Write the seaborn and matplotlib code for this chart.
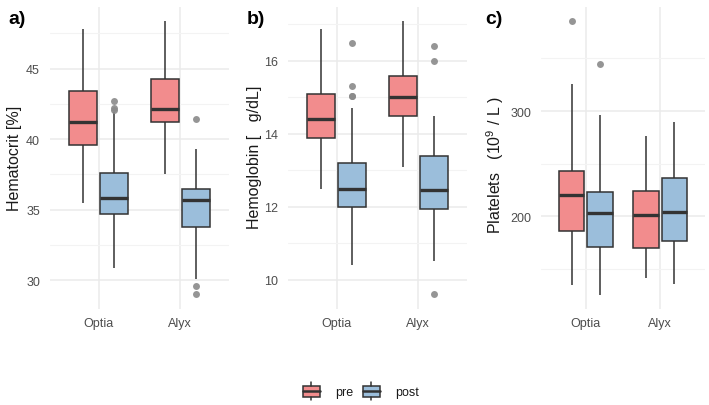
import numpy as np
import pandas as pd
import matplotlib
matplotlib.use("Agg")
import matplotlib.pyplot as plt
import seaborn as sns
from matplotlib.ticker import FixedLocator
from matplotlib.legend_handler import HandlerBase
from matplotlib.patches import Rectangle, Patch
from matplotlib.lines import Line2D

# ---------------- data ----------------
devices = ["Optia", "Alyx"]
times = ["pre", "post"]
# group order: Optia-pre, Optia-post, Alyx-pre, Alyx-post
group_device = ["Optia", "Optia", "Alyx", "Alyx"]
group_time = ["pre", "post", "pre", "post"]

hct_lo = [35.5, 30.9, 37.5, 30.1]
hct_q1 = [39.6, 34.7, 41.25, 33.8]
hct_med = [41.2, 35.8, 42.15, 35.7]
hct_q3 = [43.4, 37.6, 44.25, 36.5]
hct_hi = [47.8, 41.9, 48.4, 39.3]
hct_out = [[], [42.05, 42.2, 42.7], [], [41.4, 29.6, 29.0]]

hb_lo = [12.5, 10.4, 13.1, 10.5]
hb_q1 = [13.9, 12.0, 14.5, 11.95]
hb_med = [14.4, 12.5, 15.0, 12.45]
hb_q3 = [15.1, 13.2, 15.6, 13.4]
hb_hi = [16.87, 14.7, 17.1, 14.5]
hb_out = [[], [15.05, 15.05, 15.3, 16.5], [], [16.0, 16.4, 9.6]]

plt_lo = [134, 125, 141, 135]
plt_q1 = [186, 171, 170, 176]
plt_med = [220, 203, 201, 204]
plt_q3 = [243, 223, 224, 236]
plt_hi = [326, 296, 276, 290]
plt_out = [[386], [345], [], []]

panel_labels = ["a)", "b)", "c)"]
y_labels = ["Hematocrit [%]", "Hemoglobin [   g/dL]", "Platelets   (10$^{9}$ / L )"]
y_ticks = [[30, 35, 40, 45], [10, 12, 14, 16], [200, 300]]
y_minor = [[32.5, 37.5, 42.5, 47.5], [11, 13, 15, 17], [150, 250, 350]]
y_lims = [(28.0, 49.37), (9.21, 17.48), (112, 399)]

RED = "#F28C8D"
BLUE = "#9BBEDB"
EDGE = "#333333"


def sample_from_summary(lo, q1, med, q3, hi, outs):
    """21-value sample whose quartiles/whiskers/outliers equal the read values."""
    low = sorted(o for o in outs if o < q1)
    high = sorted(o for o in outs if o > q3)
    head = low + [lo]
    head = head + [q1] * (6 - len(head))
    mid = [med] * 9
    tail = [q3] * (5 - len(high)) + [hi] + high
    return head + mid + tail


def build_frame(lo, q1, med, q3, hi, outs):
    rows = []
    for i in range(4):
        for v in sample_from_summary(lo[i], q1[i], med[i], q3[i], hi[i], outs[i]):
            rows.append((group_device[i], group_time[i], v))
    return pd.DataFrame(rows, columns=["device", "time", "value"])


frames = [
    build_frame(hct_lo, hct_q1, hct_med, hct_q3, hct_hi, hct_out),
    build_frame(hb_lo, hb_q1, hb_med, hb_q3, hb_hi, hb_out),
    build_frame(plt_lo, plt_q1, plt_med, plt_q3, plt_hi, plt_out),
]

# ---------------- style ----------------
sns.set_theme(style="whitegrid")
plt.rcParams["font.family"] = ["Liberation Sans", "DejaVu Sans"]
plt.rcParams["mathtext.fontset"] = "custom"
plt.rcParams["mathtext.rm"] = "Liberation Sans"
plt.rcParams["mathtext.it"] = "Liberation Sans:italic"

W, H = 709, 406
fig = plt.figure(figsize=(W / 100, H / 100), dpi=100)

# axes rectangles in pixels: left, right
px = [(49.7, 229.3), (287.7, 467.3), (541.0, 705.0)]
top_px, bot_px = 8.0, 309.5
title_x = [8, 247, 485]
ylabel_x_px = [15, 254.5, 495.5]
ylabel_y_frac = [0.5, 0.505, 0.478]

for k in range(3):
    l, r = px[k]
    ax = fig.add_axes([l / W, 1 - bot_px / H, (r - l) / W, (bot_px - top_px) / H])
    sns.boxplot(
        data=frames[k], x="device", y="value", hue="time",
        order=devices, hue_order=times,
        palette={"pre": RED, "post": BLUE}, saturation=1,
        width=0.76, gap=0.09, whis=1.5, showcaps=False,
        linewidth=1.1, linecolor=EDGE,
        medianprops=dict(linewidth=2.4, color=EDGE),
        flierprops=dict(marker="o", markerfacecolor="#8a8a8a", markeredgecolor="none",
                        markersize=5, alpha=0.9),
        legend=False, ax=ax,
    )
    ax.set_xlim(-0.6, 1.6)
    ax.set_ylim(*y_lims[k])
    ax.yaxis.set_major_locator(FixedLocator(y_ticks[k]))
    ax.yaxis.set_minor_locator(FixedLocator(y_minor[k]))
    ax.set_facecolor("white")
    for s in ax.spines.values():
        s.set_visible(False)
    ax.grid(True, which="major", axis="both", color="#EBEBEB", linewidth=1.1)
    ax.grid(True, which="minor", axis="y", color="#F3F3F3", linewidth=0.8)
    ax.set_axisbelow(True)
    ax.tick_params(axis="both", which="both", length=0, labelsize=9, labelcolor="#4D4D4D")
    ax.tick_params(axis="y", pad=7)
    ax.tick_params(axis="x", pad=6)
    ax.set_xlabel("")
    ax.set_ylabel(y_labels[k], fontsize=11.5, color="#1a1a1a", va="center")
    ax.yaxis.set_label_coords((ylabel_x_px[k] - l) / (r - l), ylabel_y_frac[k])
    fig.text(title_x[k] / W, 1 - 19.5 / H, panel_labels[k], fontsize=14,
             fontweight="bold", va="center", ha="left", color="black")


class BoxKey(HandlerBase):
    def create_artists(self, legend, orig_handle, xdescent, ydescent, width, height,
                       fontsize, trans):
        fc = orig_handle.get_facecolor()
        x0, y0 = -xdescent, -ydescent
        cy = y0 + height / 2
        bh = height
        ext = 0.32 * height
        rect = Rectangle((x0, cy - bh / 2), width, bh, facecolor=fc, edgecolor=EDGE,
                         linewidth=1.1, transform=trans)
        med = Line2D([x0, x0 + width], [cy, cy], color=EDGE, linewidth=1.8, transform=trans)
        xm = x0 + width / 2
        wt = Line2D([xm, xm], [cy + bh / 2, cy + bh / 2 + ext], color=EDGE, linewidth=1.1,
                    transform=trans)
        wb = Line2D([xm, xm], [cy - bh / 2, cy - bh / 2 - ext], color=EDGE, linewidth=1.1,
                    transform=trans)
        return [rect, med, wt, wb]


handles = [Patch(facecolor=RED), Patch(facecolor=BLUE)]
fig.legend(handles=handles, labels=times, loc="center", bbox_to_anchor=(0.509, 0.032),
           ncol=2, frameon=False, handler_map={Patch: BoxKey()},
           handlelength=1.35, handleheight=1.0, handletextpad=1.2, columnspacing=0.8,
           fontsize=9, labelcolor="#1a1a1a")

fig.savefig("out.png", dpi=100, facecolor="white")
